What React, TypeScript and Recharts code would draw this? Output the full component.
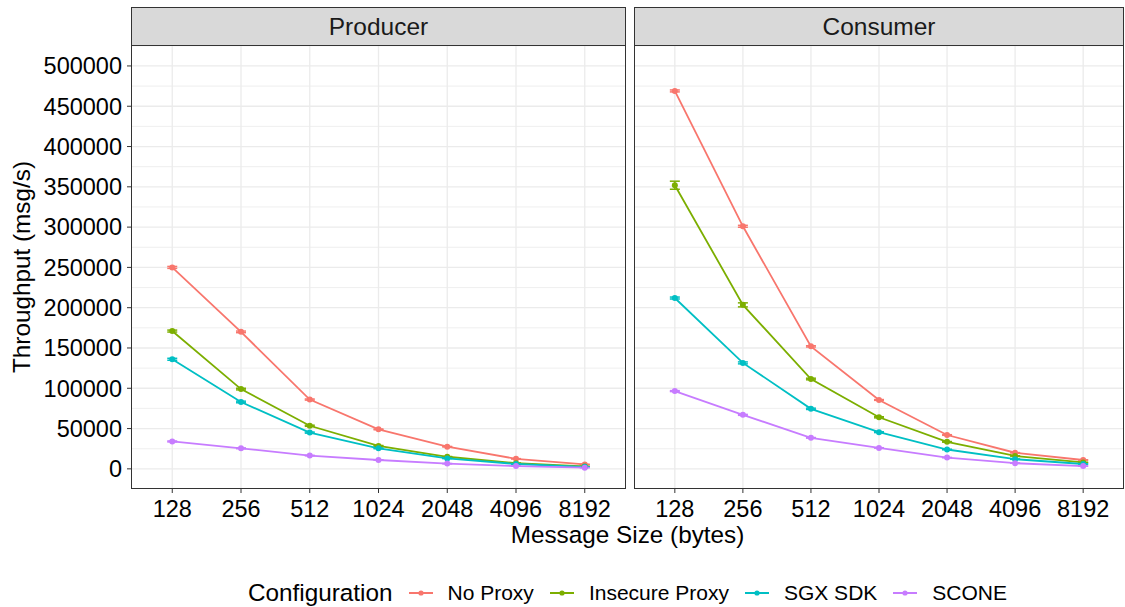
import { LineChart, Line, XAxis, YAxis, CartesianGrid, ErrorBar } from "recharts";

const sizes = ["128", "256", "512", "1024", "2048", "4096", "8192"];
const yTicks = [0, 50000, 100000, 150000, 200000, 250000, 300000, 350000, 400000, 450000, 500000];
const yMinor = [25000, 75000, 125000, 175000, 225000, 275000, 325000, 375000, 425000, 475000, 525000];

// producer panel
const prodNoProxy = [250000, 170000, 86000, 49000, 27500, 12500, 5500];
const prodInsecure = [171000, 99000, 53500, 28500, 15000, 7000, 3000];
const prodSgx = [136000, 83000, 45000, 25500, 13000, 6000, 2500];
const prodScone = [34000, 25500, 16500, 11000, 6500, 3500, 1500];

// consumer panel
const consNoProxy = [469000, 301000, 152000, 85500, 42000, 20000, 11000];
const consInsecure = [352000, 203500, 111500, 64000, 33500, 16000, 8000];
const consSgx = [212000, 131500, 74500, 45500, 24000, 12000, 6000];
const consScone = [96500, 67000, 38500, 26000, 14000, 7000, 3500];

// error bar half-widths
const prodErr = [1200, 1000, 700, 500, 300, 200, 100];
const consErr = [1200, 1200, 800, 500, 400, 200, 100];
const consInsecureErr = [5000, 2500, 1000, 700, 400, 200, 100];

const series = [
  { key: "noProxy", name: "No Proxy", color: "#F8766D" },
  { key: "insecure", name: "Insecure Proxy", color: "#7CAE00" },
  { key: "sgx", name: "SGX SDK", color: "#00BFC4" },
  { key: "scone", name: "SCONE", color: "#C77CFF" },
];

const prodRows = sizes.map((s, i) => ({
  i,
  noProxy: prodNoProxy[i],
  insecure: prodInsecure[i],
  sgx: prodSgx[i],
  scone: prodScone[i],
  noProxyErr: prodErr[i],
  insecureErr: prodErr[i],
  sgxErr: prodErr[i],
  sconeErr: prodErr[i] / 2,
}));

const consRows = sizes.map((s, i) => ({
  i,
  noProxy: consNoProxy[i],
  insecure: consInsecure[i],
  sgx: consSgx[i],
  scone: consScone[i],
  noProxyErr: consErr[i],
  insecureErr: consInsecureErr[i],
  sgxErr: consErr[i],
  sconeErr: consErr[i] / 2,
}));

const font = "'Liberation Sans', Arial, Helvetica, sans-serif";
const TOP = 45;
const PLOT_H = 444;
const CHART_H = 530;
const TICK_FS = 23.5;

function Panel({ title, rows, left, width, showY }: any) {
  const yw = showY ? 131 : 0;
  return (
    <div style={{ position: "absolute", left, top: 0, width, height: CHART_H }}>
      <LineChart width={width} height={CHART_H} data={rows} margin={{ top: TOP, right: 0, bottom: 0, left: 0 }}>
        <CartesianGrid stroke="#EBEBEB" strokeWidth={0.8} vertical={false} horizontalValues={yMinor} />
        <CartesianGrid stroke="#EBEBEB" strokeWidth={1.3} horizontalValues={yTicks} verticalValues={[0, 1, 2, 3, 4, 5, 6]} />
        <XAxis
          type="number"
          dataKey="i"
          domain={[-0.6, 6.6]}
          ticks={[0, 1, 2, 3, 4, 5, 6]}
          interval={0}
          tickFormatter={(v: number) => sizes[v]}
          axisLine={false}
          tickSize={4}
          tickMargin={7}
          tickLine={{ stroke: "#333333" }}
          tick={{ fill: "#000", fontSize: TICK_FS, fontFamily: font }}
          height={CHART_H - TOP - PLOT_H}
        />
        <YAxis
          type="number"
          domain={[-25000, 526000]}
          ticks={yTicks}
          interval={0}
          hide={!showY}
          width={yw}
          axisLine={false}
          tickSize={4}
          tickMargin={5}
          tickLine={{ stroke: "#333333" }}
          tick={{ fill: "#000", fontSize: TICK_FS, fontFamily: font }}
        />
        {series.map((s) => (
          <Line
            key={s.key}
            dataKey={s.key}
            stroke={s.color}
            strokeWidth={1.8}
            dot={{ r: 3, fill: s.color, stroke: s.color, strokeWidth: 0 }}
            isAnimationActive={false}
          >
            <ErrorBar dataKey={s.key + "Err"} width={5} stroke={s.color} strokeWidth={1.5} />
          </Line>
        ))}
      </LineChart>
      <div
        style={{
          position: "absolute",
          left: yw,
          top: TOP,
          width: width - yw,
          height: PLOT_H,
          border: "1.3px solid #333333",
          boxSizing: "border-box",
          pointerEvents: "none",
        }}
      />
      <div
        style={{
          position: "absolute",
          left: yw,
          top: 7,
          width: width - yw,
          height: TOP - 7 + 1,
          background: "#D9D9D9",
          border: "1.3px solid #333333",
          boxSizing: "border-box",
          display: "flex",
          alignItems: "center",
          justifyContent: "center",
          fontSize: 24.5,
          fontFamily: font,
          color: "#1A1A1A",
        }}
      >
        {title}
      </div>
    </div>
  );
}

export default function App() {
  return (
    <div style={{ position: "absolute", left: 0, top: 0, width: 1125, height: 607, background: "#fff", fontFamily: font }}>
      <Panel title="Producer" rows={prodRows} left={0} width={626} showY />
      <Panel title="Consumer" rows={consRows} left={634} width={490} showY={false} />
      <div
        style={{
          position: "absolute",
          left: 22,
          top: 267,
          transform: "translate(-50%, -50%) rotate(-90deg)",
          fontSize: 24.3,
          whiteSpace: "nowrap",
        }}
      >
        Throughput (msg/s)
      </div>
      <div
        style={{
          position: "absolute",
          left: 131,
          width: 993,
          top: 521,
          textAlign: "center",
          fontSize: 24.3,
        }}
      >
        Message Size (bytes)
      </div>
      <div
        style={{
          position: "absolute",
          left: 131,
          width: 993,
          top: 579,
          display: "flex",
          justifyContent: "center",
          alignItems: "center",
          fontSize: 21,
        }}
      >
        <span style={{ fontSize: 24.3, marginRight: 16 }}>Configuration</span>
        {series.map((s, idx) => (
          <span
            key={s.key}
            style={{ display: "flex", alignItems: "center", marginRight: idx < series.length - 1 ? 16 : 0 }}
          >
            <svg width={24} height={12} style={{ marginRight: 15 }}>
              <line x1={0} y1={6} x2={24} y2={6} stroke={s.color} strokeWidth={2} />
              <circle cx={12} cy={6} r={2.6} fill={s.color} />
            </svg>
            {s.name}
          </span>
        ))}
      </div>
    </div>
  );
}
